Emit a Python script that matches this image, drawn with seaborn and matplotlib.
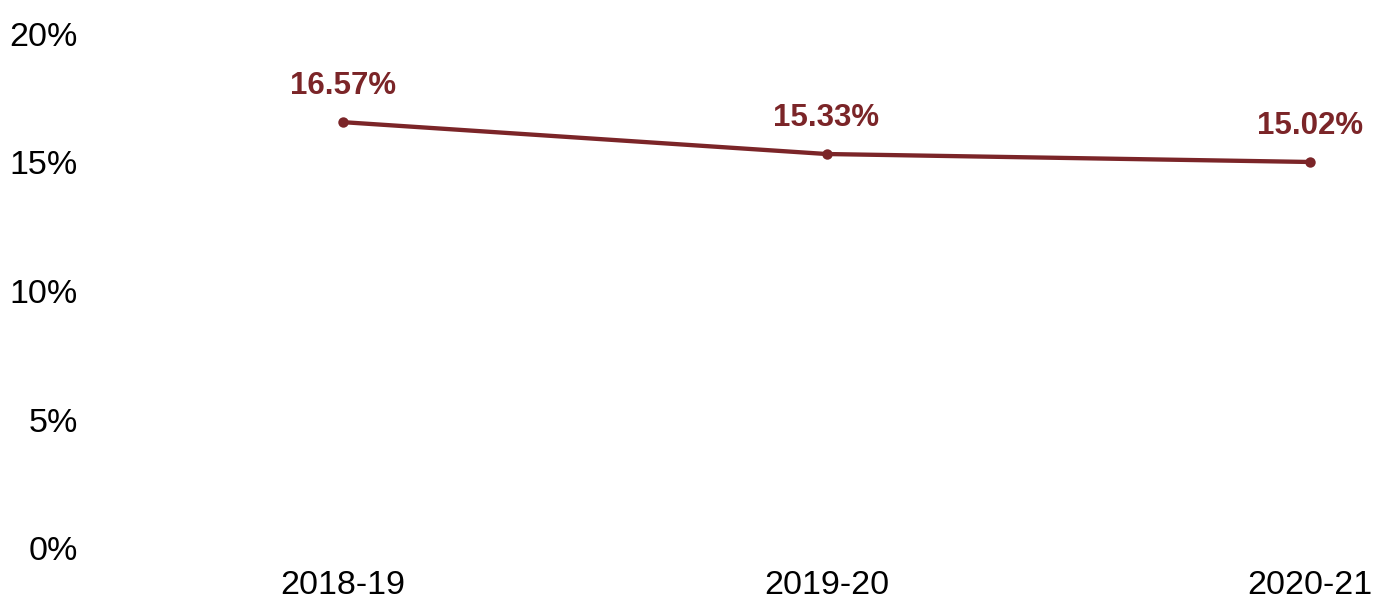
import matplotlib
matplotlib.use("Agg")
import matplotlib.pyplot as plt
import seaborn as sns
import pandas as pd

years = ["2018-19", "2019-20", "2020-21"]
rates = [16.57, 15.33, 15.02]
y_ticks = [0, 5, 10, 15, 20]

sns.set_theme(style="white")
plt.rcParams["font.family"] = ["Liberation Sans", "DejaVu Sans"]

color = "#7B2528"
df = pd.DataFrame({"year": years, "rate": rates})

fig = plt.figure(figsize=(13.84, 6.01), dpi=100)
ax = fig.add_axes([100 / 1384, 1 - 548 / 601, 1 - 100 / 1384, (548 - 34) / 601])

sns.lineplot(data=df, x="year", y="rate", ax=ax, color=color, linewidth=3.1,
             marker="o", markersize=7.5, markeredgewidth=0, sort=False)

for i, v in enumerate(rates):
    ax.annotate(f"{v:.2f}%", (i, v), xytext=(0, 26), textcoords="offset points",
                ha="center", va="center", fontsize=22.5, fontweight="bold", color=color)

ax.set_xlim(-0.5026, 2.153)
ax.set_ylim(0, 20)
ax.set_yticks(y_ticks)
ax.set_yticklabels([f"{t}%" for t in y_ticks])
ax.set_xlabel("")
ax.set_ylabel("")
ax.tick_params(axis="both", length=0, labelsize=24.5, colors="black")
ax.tick_params(axis="y", pad=16)
ax.tick_params(axis="x", pad=16)
for s in ax.spines.values():
    s.set_visible(False)
ax.grid(False)

fig.savefig("out.png", dpi=100)
